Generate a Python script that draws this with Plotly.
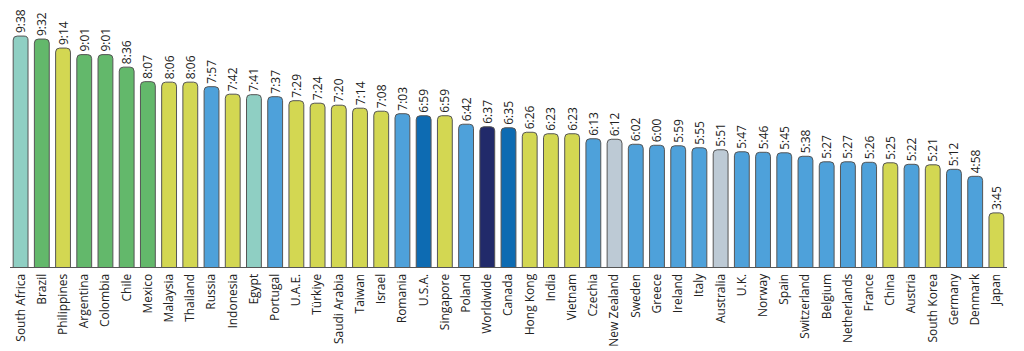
import plotly.graph_objects as go

countries = ["South Africa", "Brazil", "Philippines", "Argentina", "Colombia", "Chile", "Mexico",
             "Malaysia", "Thailand", "Russia", "Indonesia", "Egypt", "Portugal", "U.A.E.", "Türkiye",
             "Saudi Arabia", "Taiwan", "Israel", "Romania", "U.S.A.", "Singapore", "Poland", "Worldwide",
             "Canada", "Hong Kong", "India", "Vietnam", "Czechia", "New Zealand", "Sweden", "Greece",
             "Ireland", "Italy", "Australia", "U.K.", "Norway", "Spain", "Switzerland", "Belgium",
             "Netherlands", "France", "China", "Austria", "South Korea", "Germany", "Denmark", "Japan"]

time_labels = ["9:38", "9:32", "9:14", "9:01", "9:01", "8:36", "8:07", "8:06", "8:06", "7:57", "7:42",
               "7:41", "7:37", "7:29", "7:24", "7:20", "7:14", "7:08", "7:03", "6:59", "6:59", "6:42",
               "6:37", "6:35", "6:26", "6:23", "6:23", "6:13", "6:12", "6:02", "6:00", "5:59", "5:55",
               "5:51", "5:47", "5:46", "5:45", "5:38", "5:27", "5:27", "5:26", "5:25", "5:22", "5:21",
               "5:12", "4:58", "3:45"]

groups = ["teal", "green", "yellow", "green", "green", "green", "green", "yellow", "yellow", "blue",
          "yellow", "teal", "blue", "yellow", "yellow", "yellow", "yellow", "yellow", "blue", "dark",
          "yellow", "blue", "navy", "dark", "yellow", "yellow", "yellow", "blue", "gray", "blue", "blue",
          "blue", "blue", "gray", "blue", "blue", "blue", "blue", "blue", "blue", "blue", "yellow", "blue",
          "yellow", "blue", "blue", "yellow"]

palette = {"teal": "#8fcfc3", "green": "#63b86b", "yellow": "#d3d752", "blue": "#4ea1da",
           "dark": "#0d6bb2", "navy": "#212a6a", "gray": "#bdcad5"}

minutes = [int(t.split(":")[0]) * 60 + int(t.split(":")[1]) for t in time_labels]
colors = [palette[g] for g in groups]

fig = go.Figure(go.Bar(
    x=countries, y=minutes, text=time_labels,
    textposition="outside", textangle=-90, constraintext="none",
    textfont=dict(family="Open Sans", size=12, color="#222"),
    cliponaxis=False,
    marker=dict(color=colors, line=dict(color="#555555", width=1), cornerradius=4),
    hoverinfo="skip",
))

fig.update_layout(
    width=1024, height=351,
    margin=dict(l=10, r=17, t=0, b=84),
    paper_bgcolor="white", plot_bgcolor="white",
    bargap=0.3, showlegend=False,
    font=dict(family="Open Sans", size=12, color="#222"),
)
fig.update_xaxes(tickangle=-90, showline=True, linecolor="#555555", linewidth=1,
                 ticks="outside", ticklen=1, tickcolor="rgba(0,0,0,0)",
                 showgrid=False, tickfont=dict(family="Open Sans", size=12, color="#222"))
fig.update_yaxes(range=[117, 650], visible=False, showgrid=False)

fig.write_html("out.html")
